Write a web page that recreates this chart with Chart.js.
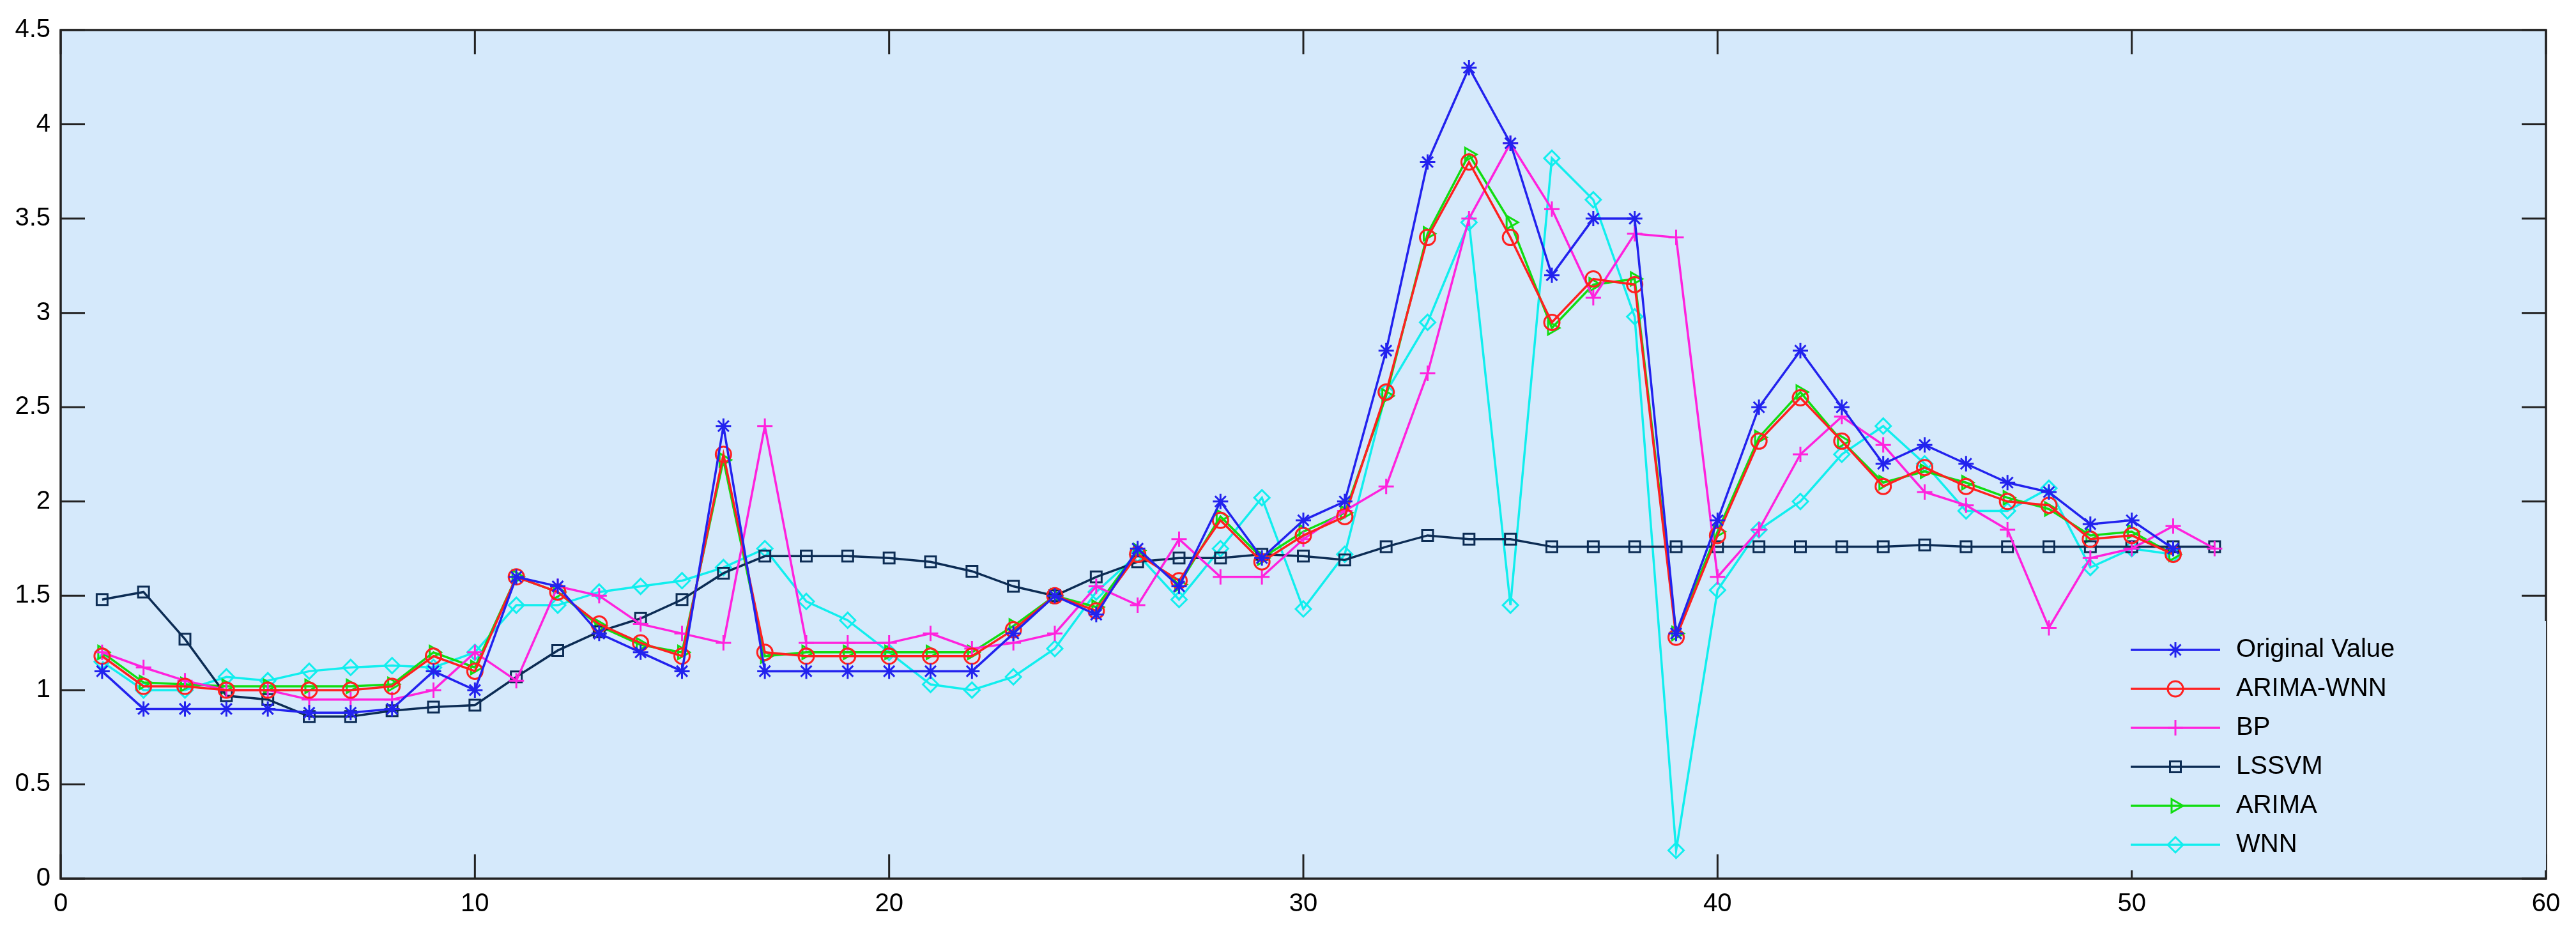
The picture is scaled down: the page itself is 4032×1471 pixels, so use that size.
<!DOCTYPE html>
<html><head><meta charset="utf-8">
<script src="https://cdn.jsdelivr.net/npm/chart.js@4"></script>
<style>html,body{margin:0;padding:0;background:#fff}#w{width:4032px;height:1471px}</style>
</head><body><div id="w"><canvas id="c"></canvas></div>
<script>
const xs = Array.from({length:52},(_,i)=>i+1);
const original = [1.1,0.9,0.9,0.9,0.9,0.88,0.88,0.9,1.1,1.0,1.6,1.55,1.3,1.2,1.1,2.4,1.1,1.1,1.1,1.1,1.1,1.1,1.3,1.5,1.4,1.75,1.55,2.0,1.7,1.9,2.0,2.8,3.8,4.3,3.9,3.2,3.5,3.5,1.3,1.9,2.5,2.8,2.5,2.2,2.3,2.2,2.1,2.05,1.88,1.9,1.75];
const arimaWnn = [1.18,1.02,1.02,1.0,1.0,1.0,1.0,1.02,1.18,1.1,1.6,1.52,1.35,1.25,1.18,2.25,1.2,1.18,1.18,1.18,1.18,1.18,1.32,1.5,1.42,1.72,1.58,1.9,1.68,1.82,1.92,2.58,3.4,3.8,3.4,2.95,3.18,3.15,1.28,1.82,2.32,2.55,2.32,2.08,2.18,2.08,2.0,1.98,1.8,1.82,1.72];
const bp = [1.2,1.12,1.05,1.0,1.0,0.95,0.95,0.95,1.0,1.2,1.05,1.55,1.5,1.35,1.3,1.25,2.4,1.25,1.25,1.25,1.3,1.22,1.25,1.3,1.55,1.45,1.8,1.6,1.6,1.8,1.95,2.08,2.68,3.5,3.9,3.55,3.08,3.42,3.4,1.6,1.85,2.25,2.45,2.3,2.05,1.98,1.85,1.33,1.7,1.75,1.87,1.75];
const lssvm = [1.48,1.52,1.27,0.97,0.95,0.86,0.86,0.89,0.91,0.92,1.07,1.21,1.31,1.38,1.48,1.62,1.71,1.71,1.71,1.7,1.68,1.63,1.55,1.5,1.6,1.68,1.7,1.7,1.72,1.71,1.69,1.76,1.82,1.8,1.8,1.76,1.76,1.76,1.76,1.76,1.76,1.76,1.76,1.76,1.77,1.76,1.76,1.76,1.76,1.76,1.76,1.76];
const arima = [1.2,1.04,1.03,1.02,1.02,1.02,1.02,1.03,1.2,1.12,1.6,1.52,1.34,1.24,1.2,2.22,1.18,1.2,1.2,1.2,1.2,1.2,1.34,1.5,1.44,1.74,1.56,1.92,1.7,1.84,1.94,2.56,3.42,3.84,3.48,2.92,3.15,3.18,1.3,1.84,2.34,2.58,2.32,2.1,2.16,2.1,2.02,1.96,1.82,1.84,1.72];
const wnn = [1.15,1.0,1.0,1.07,1.05,1.1,1.12,1.13,1.12,1.2,1.45,1.45,1.52,1.55,1.58,1.65,1.75,1.47,1.37,1.2,1.03,1.0,1.07,1.22,1.52,1.72,1.48,1.75,2.02,1.43,1.72,2.58,2.95,3.48,1.45,3.82,3.6,2.98,0.15,1.53,1.85,2.0,2.25,2.4,2.2,1.95,1.95,2.07,1.65,1.75,1.72];
const names = ['Original Value','ARIMA-WNN','BP','LSSVM','ARIMA','WNN'];
const xTicks = [0,10,20,30,40,50,60];
const yTicks = [0,0.5,1,1.5,2,2.5,3,3.5,4,4.5];
const FONT='"Liberation Sans", Arial';

function ds(label, data, color, style, rot){
  return {label, data: data.map((v,i)=>({x:xs[i],y:v})), borderColor:color, backgroundColor:'rgba(0,0,0,0)',
    borderWidth:3.5, pointStyle:style, pointRotation:rot||0, pointRadius:12, pointBorderWidth:3,
    pointBorderColor:color, pointBackgroundColor:'rgba(0,0,0,0)', tension:0, fill:false};
}
const sets = [
  ds(names[0], original, '#2222ee', 'star'),
  ds(names[1], arimaWnn, '#ff2020', 'circle'),
  ds(names[2], bp, '#ff22dd', 'cross'),
  ds(names[3], lssvm, '#0c2c54', 'rect'),
  ds(names[4], arima, '#11dd11', 'triangle', 90),
  ds(names[5], wnn, '#11eeee', 'rectRot'),
];
const bg = {id:'bg', beforeDraw(ch){const a=ch.chartArea,c=ch.ctx;c.save();c.fillStyle='#d5e9fb';c.fillRect(a.left,a.top,a.right-a.left,a.bottom-a.top);c.restore();},
  afterDraw(ch){const a=ch.chartArea,c=ch.ctx;c.save();c.strokeStyle='#222';c.lineWidth=3.5;c.strokeRect(a.left,a.top,a.right-a.left,a.bottom-a.top);
   c.lineWidth=3;const xs_=ch.scales.x,ys_=ch.scales.y;
   xTicks.forEach(t=>{const px=xs_.getPixelForValue(t);c.beginPath();c.moveTo(px,a.bottom);c.lineTo(px,a.bottom-38);c.moveTo(px,a.top);c.lineTo(px,a.top+38);c.stroke();});
   yTicks.forEach(t=>{const py=ys_.getPixelForValue(t);c.beginPath();c.moveTo(a.left,py);c.lineTo(a.left+38,py);c.moveTo(a.right,py);c.lineTo(a.right-38,py);c.stroke();});
   const lx=3315,ly=972,lw=670,lh=390;c.fillStyle='#d5e9fb';c.fillRect(lx,ly,lw,lh);
   c.font='40px '+FONT;c.textBaseline='middle';
   sets.forEach((d,i)=>{const y=ly+45+i*61;c.strokeStyle=d.borderColor;c.lineWidth=3.5;c.beginPath();c.moveTo(lx+20,y);c.lineTo(lx+160,y);c.stroke();
     c.fillStyle='rgba(0,0,0,0)';c.lineWidth=3;
     Chart.helpers.drawPoint(c,{pointStyle:d.pointStyle,radius:12,rotation:d.pointRotation,borderWidth:3},lx+90,y);
     c.fillStyle='#000';c.fillText(d.label,lx+185,y);});
   c.restore();}};
new Chart(document.getElementById('c'),{type:'line',data:{datasets:sets},plugins:[bg],
 options:{responsive:true,maintainAspectRatio:false,animation:false,
  layout:{padding:{top:47,right:47,left:0,bottom:0}},
  plugins:{legend:{display:false},tooltip:{enabled:false}},
  scales:{
   x:{type:'linear',min:0,max:60,afterBuildTicks(s){s.ticks=xTicks.map(v=>({value:v}));},
      afterFit(s){s.height=96;},grid:{display:false},border:{display:false},
      ticks:{color:'#000',font:{size:40,family:FONT},padding:8,callback:v=>String(v)}},
   y:{min:0,max:4.5,afterBuildTicks(s){s.ticks=yTicks.map(v=>({value:v}));},
      afterFit(s){s.width=95;},grid:{display:false},border:{display:false},
      ticks:{color:'#000',font:{size:40,family:FONT},padding:8,callback:v=>String(v)}}
  }}});
</script></body></html>
